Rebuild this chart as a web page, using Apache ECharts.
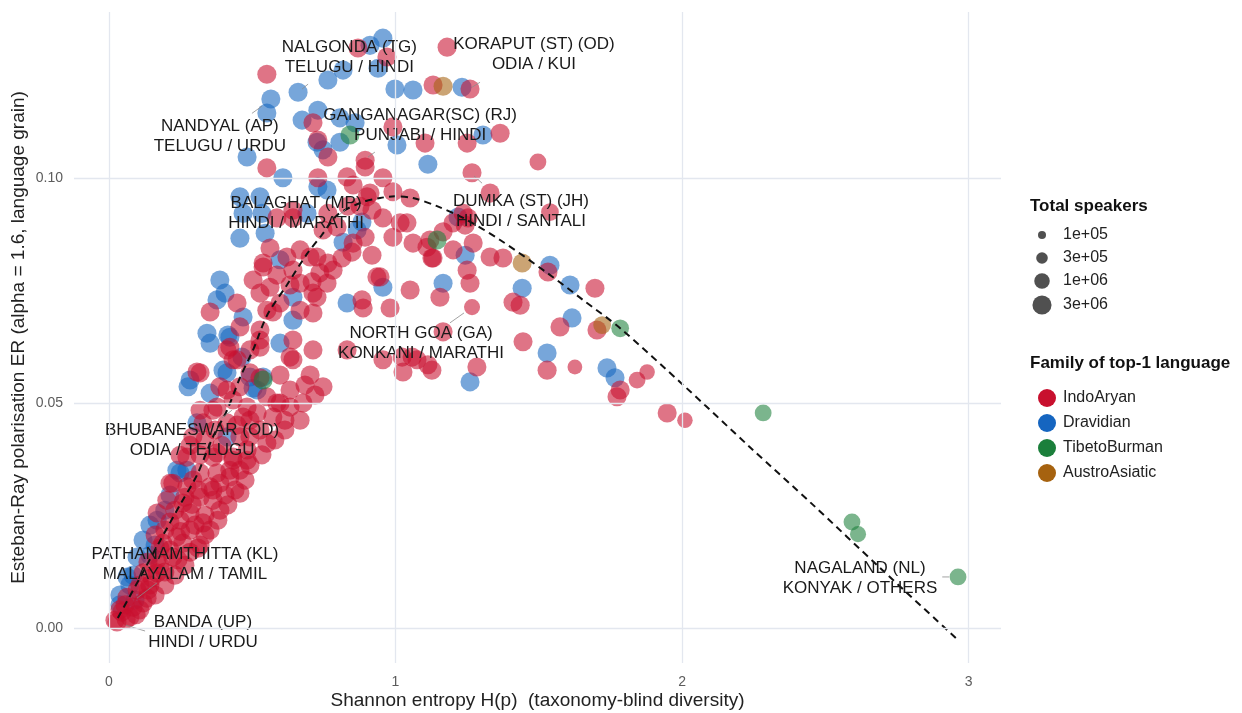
<!DOCTYPE html>
<html>
<head>
<meta charset="utf-8">
<title>Esteban-Ray polarisation vs Shannon entropy</title>
<script src="https://cdn.jsdelivr.net/npm/echarts@6/dist/echarts.min.js"></script>
<style>
  html, body { margin: 0; padding: 0; background: #ffffff; }
  #chart { width: 1242px; height: 713px; }
</style>
</head>
<body>
<div id="chart"></div>
<script>
// Each district: [Shannon entropy H(p), Esteban-Ray ER, total speakers]
const indoAryan = [
  [0.869,0.1288,3e6],[0.970,0.1268,3e6],[0.551,0.1230,3e6],[1.180,0.1290,3e6],[1.131,0.1206,3e6],
  [1.260,0.1197,3e6],[0.712,0.1122,3e6],[0.729,0.1084,3e6],[0.764,0.1046,3e6],[0.894,0.1039,3e6],
  [0.991,0.1113,3e6],[1.103,0.1077,3e6],[1.250,0.1077,3e6],[1.365,0.1099,3e6],[1.497,0.1035,1.5e6],
  [1.267,0.1011,3e6],[0.551,0.1022,3e6],[0.729,0.1000,3e6],[0.831,0.1002,3e6],[0.852,0.0984,3e6],
  [0.894,0.1024,3e6],[0.956,0.1000,3e6],[0.991,0.0969,3e6],[1.051,0.0955,3e6],[0.901,0.0958,3e6],
  [0.586,0.0911,3e6],[0.642,0.0911,3e6],[0.764,0.0921,3e6],[0.796,0.0891,3e6],[0.747,0.0884,3e6],
  [0.894,0.0868,3e6],[0.852,0.0855,3e6],[0.956,0.0911,3e6],[1.016,0.0900,3e6],[0.991,0.0868,3e6],
  [1.061,0.0855,3e6],[1.110,0.0846,3e6],[1.166,0.0880,3e6],[1.201,0.0900,3e6],[1.236,0.0921,3e6],
  [1.253,0.0911,3e6],[1.271,0.0855,3e6],[1.201,0.0840,3e6],[1.131,0.0822,3e6],[1.250,0.0795,3e6],
  [1.260,0.0766,3e6],[1.155,0.0735,3e6],[1.051,0.0751,3e6],[0.946,0.0780,3e6],[0.883,0.0729,3e6],
  [0.981,0.0711,3e6],[1.267,0.0713,1.2e6],[1.330,0.0824,3e6],[1.375,0.0822,3e6],[0.562,0.0844,3e6],
  [0.667,0.0840,3e6],[0.726,0.0824,3e6],[0.764,0.0811,3e6],[0.782,0.0795,3e6],[0.538,0.0811,3e6],
  [0.642,0.0795,3e6],[0.709,0.0769,3e6],[0.632,0.0762,3e6],[0.761,0.0766,3e6],[0.503,0.0773,3e6],
  [0.562,0.0757,3e6],[0.353,0.0702,3e6],[0.447,0.0722,3e6],[0.527,0.0744,3e6],[0.551,0.0706,3e6],
  [0.597,0.0722,3e6],[0.726,0.0735,3e6],[0.712,0.0700,3e6],[0.712,0.0618,3e6],[0.642,0.0640,3e6],
  [0.527,0.0640,3e6],[0.457,0.0669,3e6],[0.422,0.0624,3e6],[0.492,0.0618,3e6],[0.911,0.0966,3e6],
  [1.040,0.0900,3e6],[1.120,0.0862,3e6],[1.243,0.0895,3e6],[1.127,0.0822,3e6],[1.532,0.0791,3e6],
  [1.696,0.0755,3e6],[1.410,0.0724,3e6],[1.435,0.0717,3e6],[1.574,0.0669,3e6],[1.703,0.0662,3e6],
  [1.445,0.0636,3e6],[1.529,0.0573,3e6],[1.626,0.0580,8e5],[1.784,0.0529,3e6],[1.773,0.0514,3e6],
  [1.843,0.0551,1.5e6],[1.878,0.0569,1e6],[1.948,0.0478,3e6],[2.010,0.0462,1e6],[0.887,0.0711,3e6],
  [1.075,0.0596,3e6],[1.127,0.0573,3e6],[1.284,0.0580,3e6],[1.023,0.0602,3e6],[0.956,0.0596,3e6],
  [1.166,0.0658,3e6],[1.113,0.0585,3e6],[1.026,0.0569,3e6],[1.058,0.0602,3e6],[1.330,0.0966,3e6],
  [1.539,0.0924,2e6],[0.834,0.0937,3e6],[0.876,0.0937,3e6],[0.918,0.0928,3e6],[0.848,0.0835,3e6],
  [0.918,0.0828,3e6],[0.813,0.0822,3e6],[0.667,0.0766,3e6],[0.712,0.0744,3e6],[0.667,0.0706,3e6],
  [0.736,0.0789,3e6],[0.702,0.0824,3e6],[0.621,0.0824,3e6],[0.586,0.0784,3e6],[0.538,0.0802,3e6],
  [0.572,0.0702,3e6],[0.527,0.0662,3e6],[0.632,0.0602,3e6],[0.747,0.0536,3e6],[0.831,0.0618,3e6],
  [0.935,0.0780,3e6],[0.433,0.0596,3e6],[0.318,0.0567,3e6],[0.387,0.0536,3e6],[0.433,0.0507,3e6],
  [0.482,0.0491,3e6],[0.551,0.0514,3e6],[0.597,0.0500,3e6],[0.632,0.0491,3e6],[0.677,0.0500,3e6],
  [0.318,0.0484,3e6],[0.363,0.0484,3e6],[0.412,0.0456,3e6],[0.457,0.0425,3e6],[0.527,0.0440,3e6],
  [0.551,0.0411,3e6],[0.293,0.0425,3e6],[0.328,0.0456,3e6],[0.272,0.0380,3e6],[0.293,0.0329,3e6],
  [0.363,0.0380,3e6],[0.422,0.0351,3e6],[0.433,0.0380,3e6],[0.363,0.0307,3e6],[0.318,0.0291,3e6],
  [0.223,0.0322,3e6],[0.482,0.0396,3e6],[0.642,0.0596,3e6],[0.586,0.0500,3e6],[0.527,0.0556,3e6],
  [0.492,0.0567,3e6],[0.457,0.0536,3e6],[0.412,0.0529,3e6],[0.307,0.0569,3e6],[0.447,0.0596,3e6],
  [0.412,0.0618,3e6],[0.527,0.0624,3e6],[0.377,0.0491,3e6],[0.468,0.0469,3e6],[0.517,0.0478,3e6],
  [0.572,0.0469,3e6],[0.492,0.0425,3e6],[0.433,0.0373,3e6],[0.482,0.0373,3e6],[0.377,0.0389,3e6],
  [0.318,0.0385,3e6],[0.318,0.0345,3e6],[0.377,0.0345,3e6],[0.272,0.0314,3e6],[0.353,0.0314,3e6],
  [0.258,0.0278,3e6],[0.202,0.0284,3e6],[0.283,0.0256,3e6],[0.168,0.0256,3e6],[0.328,0.0234,3e6],
  [0.283,0.0218,3e6],[0.237,0.0203,3e6],[0.188,0.0189,3e6],[0.258,0.0189,3e6],[0.168,0.0152,3e6],
  [0.223,0.0158,3e6],[0.119,0.0123,3e6],[0.168,0.0123,3e6],[0.098,0.0085,3e6],[0.063,0.0069,3e6],
  [0.038,0.0041,3e6],[0.021,0.0018,3e6],[0.073,0.0025,3e6],[0.119,0.0056,3e6],[0.422,0.0336,3e6],
  [0.457,0.0351,3e6],[0.387,0.0322,3e6],[0.213,0.0322,3e6],[0.363,0.0284,3e6],[0.335,0.0251,3e6],
  [0.300,0.0229,3e6],[0.143,0.0096,3e6],[0.178,0.0140,3e6],[0.213,0.0174,3e6],[0.056,0.0052,3e6],
  [0.028,0.0014,3e6],[0.248,0.0240,3e6],[0.195,0.0218,3e6],[0.136,0.0085,3e6],[0.642,0.0928,3e6],
  [0.353,0.0218,3e6],[0.318,0.0185,3e6],[0.265,0.0140,3e6],[0.230,0.0118,3e6],[0.195,0.0096,3e6],
  [0.161,0.0074,3e6],[0.108,0.0041,3e6],[0.387,0.0262,3e6],[0.405,0.0296,3e6],[0.440,0.0307,3e6],
  [0.475,0.0329,3e6],[0.614,0.0462,3e6],[0.667,0.0462,3e6],
  [0.045,0.0036,3e6],[0.084,0.0047,3e6],[0.133,0.0067,3e6],[0.108,0.0096,3e6],[0.150,0.0112,3e6],
  [0.195,0.0125,3e6],[0.136,0.0147,3e6],[0.241,0.0152,3e6],[0.283,0.0169,3e6],[0.178,0.0178,3e6],
  [0.311,0.0178,3e6],[0.335,0.0207,3e6],[0.213,0.0236,3e6],[0.161,0.0207,3e6],[0.380,0.0240,3e6],
  [0.415,0.0274,3e6],[0.265,0.0291,3e6],[0.230,0.0262,3e6],[0.311,0.0307,3e6],[0.457,0.0300,3e6],
  [0.492,0.0362,3e6],[0.534,0.0385,3e6],[0.579,0.0418,3e6],[0.614,0.0440,3e6],[0.248,0.0384,3e6],
  [0.283,0.0406,3e6],[0.335,0.0418,3e6],[0.394,0.0406,3e6],[0.370,0.0440,3e6],[0.447,0.0451,3e6],
  [0.492,0.0462,3e6],[0.632,0.0529,3e6],[0.684,0.0540,3e6],[0.597,0.0562,3e6],[0.702,0.0562,3e6],
  [0.719,0.0518,3e6],[0.095,0.0030,3e6],[0.060,0.0020,3e6],[0.250,0.0215,3e6],[0.290,0.0275,3e6]
];

const dravidian = [
  [0.956,0.1310,3e6],[0.911,0.1294,3e6],[0.939,0.1243,3e6],[0.817,0.1239,3e6],[0.764,0.1217,3e6],
  [0.660,0.1190,3e6],[0.565,0.1175,3e6],[0.551,0.1144,3e6],[0.998,0.1197,3e6],[1.061,0.1195,3e6],
  [1.232,0.1201,3e6],[0.729,0.1150,3e6],[0.674,0.1128,3e6],[0.806,0.1133,3e6],[0.859,0.1122,3e6],
  [0.726,0.1079,3e6],[0.747,0.1062,3e6],[0.806,0.1079,3e6],[1.005,0.1073,3e6],[1.113,0.1030,3e6],
  [1.305,0.1095,3e6],[0.482,0.1046,3e6],[0.607,0.1000,3e6],[0.457,0.0958,3e6],[0.527,0.0958,3e6],
  [0.468,0.0921,3e6],[0.534,0.0921,3e6],[0.457,0.0866,3e6],[0.545,0.0877,3e6],[0.691,0.0921,3e6],
  [0.729,0.0980,3e6],[0.761,0.0973,3e6],[0.883,0.0902,3e6],[0.866,0.0884,3e6],[0.817,0.0857,3e6],
  [1.218,0.0913,3e6],[1.243,0.0828,3e6],[1.166,0.0766,3e6],[0.956,0.0757,3e6],[0.831,0.0722,3e6],
  [0.597,0.0818,3e6],[0.387,0.0773,3e6],[0.405,0.0744,3e6],[0.377,0.0729,3e6],[0.468,0.0691,3e6],
  [0.642,0.0735,3e6],[0.642,0.0684,3e6],[0.597,0.0633,3e6],[0.342,0.0655,3e6],[0.415,0.0651,3e6],
  [0.464,0.0602,3e6],[1.539,0.0806,3e6],[1.609,0.0762,3e6],[1.442,0.0755,3e6],[1.616,0.0689,3e6],
  [1.529,0.0611,3e6],[1.738,0.0578,3e6],[1.766,0.0556,3e6],[1.260,0.0547,3e6],[0.422,0.0646,3e6],
  [0.412,0.0567,3e6],[0.492,0.0558,3e6],[0.517,0.0529,3e6],[0.283,0.0551,3e6],[0.276,0.0536,3e6],
  [0.353,0.0522,3e6],[0.538,0.0558,3e6],[0.503,0.0533,3e6],[0.398,0.0573,3e6],[0.353,0.0633,3e6],
  [0.412,0.0425,3e6],[0.307,0.0456,3e6],[0.237,0.0351,3e6],[0.272,0.0351,3e6],[0.248,0.0345,3e6],
  [0.168,0.0240,3e6],[0.119,0.0196,3e6],[0.098,0.0158,3e6],[0.063,0.0114,3e6],[0.143,0.0229,3e6],
  [0.091,0.0063,3e6],[0.073,0.0096,3e6],[0.038,0.0052,3e6],[0.213,0.0296,3e6],
  [0.038,0.0074,3e6],[0.084,0.0118,3e6],[0.143,0.0162,3e6],[0.195,0.0262,3e6],[0.161,0.0185,3e6]
];

const tibetoBurman = [
  [0.841,0.1095,3e6],[1.145,0.0862,3e6],[0.538,0.0551,3e6],[1.784,0.0666,2e6],
  [2.283,0.0478,1.5e6],[2.593,0.0236,1.5e6],[2.614,0.0209,1.2e6],[2.963,0.0114,1.5e6]
];

const austroAsiatic = [
  [1.166,0.1203,3e6],[1.442,0.0811,3e6],[1.721,0.0673,2e6]
];

// Smoothed trend of ER against H
const trendCurve = [
  [0.031,0.0023],[0.108,0.0112],[0.178,0.0194],[0.248,0.0274],[0.307,0.0340],[0.363,0.0425],
  [0.412,0.0484],[0.457,0.0556],[0.503,0.0618],[0.552,0.0695],[0.621,0.0762],[0.691,0.0831],
  [0.743,0.0873],[0.796,0.0917],[0.876,0.0944],[0.946,0.0955],[0.998,0.0959],[1.061,0.0955],
  [1.145,0.0937],[1.236,0.0911],[1.365,0.0862],[1.529,0.0789],[1.654,0.0729],[1.784,0.0666],
  [2.004,0.0540],[2.237,0.0402],[2.457,0.0274],[2.691,0.0134],[2.963,-0.0026]
];

const familyNames = ['IndoAryan', 'Dravidian', 'TibetoBurman', 'AustroAsiatic'];
const familyColors = ['#C8102E', '#1565C0', '#1B7F3B', '#A6620F'];

const xTicks = [0, 1, 2, 3];
const yTicks = [0, 0.05, 0.10];
const yTickLabels = ['0.00', '0.05', '0.10'];

const sizeBreaks = [1e5, 3e5, 1e6, 3e6];
const sizeBreakLabels = ['1e+05', '3e+05', '1e+06', '3e+06'];

// Named districts: text anchor, leader segment start and end
const annotations = [
  { text: 'NALGONDA (TG)\nTELUGU / HINDI', at: [0.839, 0.1268], from: [0.695, 0.1208], to: [0.674, 0.1197] },
  { text: 'KORAPUT (ST) (OD)\nODIA / KUI', at: [1.483, 0.1274], from: [1.295, 0.1212], to: [1.267, 0.1201] },
  { text: 'NANDYAL (AP)\nTELUGU / URDU', at: [0.387, 0.1093], from: [0.499, 0.1143], to: [0.534, 0.1159] },
  { text: 'GANGANAGAR(SC) (RJ)\nPUNJABI / HINDI', at: [1.086, 0.1116], from: [0.928, 0.1057], to: [0.904, 0.1046] },
  { text: 'BALAGHAT (MP)\nHINDI / MARATHI', at: [0.653, 0.0921], from: [0.806, 0.0919], to: [0.827, 0.0930] },
  { text: 'DUMKA (ST) (JH)\nHINDI / SANTALI', at: [1.438, 0.0925], from: [1.302, 0.0988], to: [1.274, 0.1004] },
  { text: 'NORTH GOA (GA)\nKONKANI / MARATHI', at: [1.089, 0.0633], from: [1.190, 0.0678], to: [1.239, 0.0700] },
  { text: 'BHUBANESWAR (OD)\nODIA / TELUGU', at: [0.290, 0.0418], from: [0.394, 0.0467], to: [0.429, 0.0484] },
  { text: 'PATHANAMTHITTA (KL)\nMALAYALAM / TAMIL', at: [0.265, 0.0141], from: [0.168, 0.0101], to: [0.098, 0.0067] },
  { text: 'BANDA (UP)\nHINDI / URDU', at: [0.328, -0.0008], from: [0.126, -0.0006], to: [0.059, 0.0007] },
  { text: 'NAGALAND (NL)\nKONYAK / OTHERS', at: [2.621, 0.0111], from: [2.908, 0.0114], to: [2.932, 0.0114] }
];

const FONT = '"Liberation Sans", Arial, Helvetica, sans-serif';

// Point diameter in px from the speaker count (log scale)
function dotSize(speakers) {
  return 8 + (Math.log10(speakers) - 5) * 7.5;
}

const familyData = [indoAryan, dravidian, tibetoBurman, austroAsiatic];
// draw order: Dravidian underneath, then IndoAryan, then the smaller families
const drawOrder = [1, 0, 2, 3];

const chart = echarts.init(document.getElementById('chart'), null, { renderer: 'canvas' });

const scatterSeries = drawOrder.map(function (i) {
  return {
    name: familyNames[i],
    type: 'scatter',
    data: familyData[i],
    symbol: 'circle',
    symbolSize: function (v) { return dotSize(v[2]); },
    itemStyle: { color: familyColors[i], opacity: 0.58, borderWidth: 0 },
    emphasis: { disabled: true },
    z: 2
  };
});

// size legend drawn as graphic items
const sizeLegendY = [235, 258, 281, 305];
const sizeLegend = [];
sizeBreaks.forEach(function (s, k) {
  sizeLegend.push({
    type: 'circle',
    shape: { cx: 1042, cy: sizeLegendY[k], r: dotSize(s) / 2 },
    style: { fill: '#505050' }
  });
  sizeLegend.push({
    type: 'text',
    x: 1063, y: sizeLegendY[k],
    style: { text: sizeBreakLabels[k], font: '16px ' + FONT, fill: '#222', verticalAlign: 'middle' }
  });
});

const option = {
  animation: false,
  backgroundColor: '#ffffff',
  grid: { left: 74, right: 241, top: 12, bottom: 50, outerBoundsMode: 'none', containLabel: false },
  xAxis: {
    type: 'value',
    min: -0.122,
    max: 3.113,
    axisLine: { show: false },
    axisTick: { show: false },
    splitLine: { show: false },
    axisLabel: {
      customValues: xTicks,
      formatter: function (v) { return String(v); },
      color: '#5c5c5c',
      fontSize: 14,
      fontFamily: FONT,
      margin: 12
    },
    name: 'Shannon entropy H(p)  (taxonomy-blind diversity)',
    nameLocation: 'middle',
    nameMoveOverlap: false,
    nameGap: 28,
    nameTextStyle: { fontSize: 19, color: '#222', fontFamily: FONT }
  },
  yAxis: {
    type: 'value',
    min: -0.0077,
    max: 0.1368,
    axisLine: { show: false },
    axisTick: { show: false },
    splitLine: { show: false },
    axisLabel: {
      customValues: yTicks,
      formatter: function (v) {
        const k = yTicks.findIndex(function (t) { return Math.abs(t - v) < 1e-9; });
        return k >= 0 ? yTickLabels[k] : '';
      },
      color: '#5c5c5c',
      fontSize: 14,
      fontFamily: FONT,
      margin: 11
    },
    name: 'Esteban-Ray polarisation ER (alpha = 1.6, language grain)',
    nameLocation: 'middle',
    nameMoveOverlap: false,
    nameGap: 46,
    nameRotate: 90,
    nameTextStyle: { fontSize: 19, color: '#222', fontFamily: FONT }
  },
  legend: {
    data: familyNames,
    orient: 'vertical',
    left: 1033,
    top: 384,
    itemWidth: 18,
    itemHeight: 18,
    itemGap: 7,
    icon: 'circle',
    selectedMode: false,
    itemStyle: { opacity: 1 },
    textStyle: { fontSize: 16, color: '#222', fontFamily: FONT, padding: [0, 0, 0, 2] }
  },
  graphic: [
    {
      type: 'text', left: 1030, top: 198,
      style: { text: 'Total speakers', font: 'bold 17px ' + FONT, fill: '#111' }
    },
    {
      type: 'text', left: 1030, top: 355,
      style: { text: 'Family of top-1 language', font: 'bold 17px ' + FONT, fill: '#111' }
    }
  ].concat(sizeLegend),
  series: [
    {
      // panel grid lines
      type: 'scatter',
      data: [],
      silent: true,
      z: 0,
      markLine: {
        silent: true,
        symbol: 'none',
        animation: false,
        label: { show: false },
        lineStyle: { color: '#E3E7EF', width: 1.3, type: 'solid' },
        data: xTicks.map(function (v) { return { xAxis: v }; })
          .concat(yTicks.map(function (v) { return { yAxis: v }; }))
      }
    }
  ].concat(scatterSeries).concat([
    {
      type: 'line',
      data: trendCurve,
      showSymbol: false,
      symbol: 'none',
      smooth: 0.3,
      silent: true,
      lineStyle: { color: '#111111', width: 2, type: [7, 5] },
      z: 3
    },
    {
      type: 'custom',
      data: annotations.map(function (a) { return a.at; }),
      encode: { x: 0, y: 1 },
      silent: true,
      z: 4,
      renderItem: function (params, api) {
        const a = annotations[params.dataIndex];
        const c = api.coord(a.at);
        const p1 = api.coord(a.from);
        const p2 = api.coord(a.to);
        return {
          type: 'group',
          children: [
            {
              type: 'line',
              shape: { x1: p1[0], y1: p1[1], x2: p2[0], y2: p2[1] },
              style: { stroke: '#8c8c8c', lineWidth: 0.8 }
            },
            {
              type: 'text',
              x: c[0], y: c[1],
              style: {
                text: a.text,
                fill: '#1a1a1a',
                font: '17px ' + FONT,
                align: 'center',
                verticalAlign: 'middle',
                lineHeight: 20
              }
            }
          ]
        };
      }
    }
  ])
};

chart.setOption(option);
</script>
</body>
</html>
